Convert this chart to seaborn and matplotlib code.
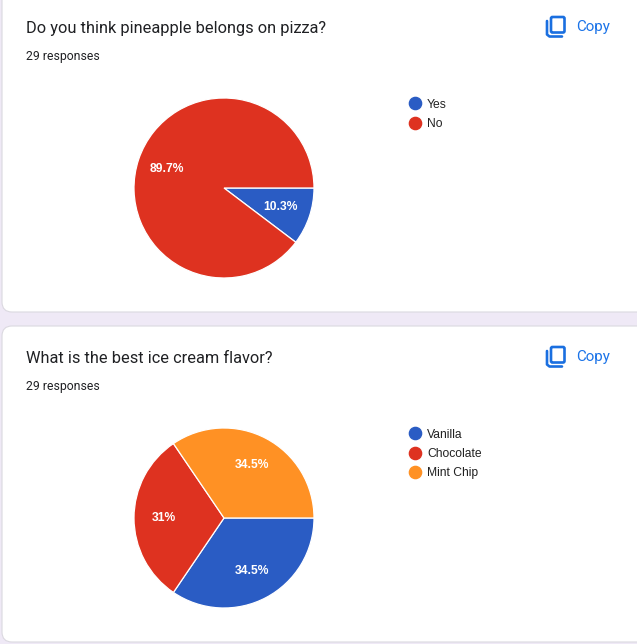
import math
import matplotlib
matplotlib.use('Agg')
import matplotlib.pyplot as plt
from matplotlib.patches import FancyBboxPatch
from matplotlib.lines import Line2D
import seaborn as sns

titles = ['Do you think pineapple belongs on pizza?', 'What is the best ice cream flavor?']
responses = ['29 responses', '29 responses']
labels_1 = ['Yes', 'No']
values_1 = [10.3, 89.7]
pct_text_1 = ['10.3%', '89.7%']
labels_2 = ['Vanilla', 'Chocolate', 'Mint Chip']
values_2 = [34.5, 31, 34.5]
pct_text_2 = ['34.5%', '31%', '34.5%']
colors = sns.color_palette(['#2a5cc4', '#de3220', '#ff9124'])

W, H = 637, 644
sns.set_theme(style='white')
plt.rcParams['font.family'] = ['Roboto', 'DejaVu Sans']

fig = plt.figure(figsize=(W / 100, H / 100), dpi=100, facecolor='#efe9f6')
bg = fig.add_axes([0, 0, 1, 1])
bg.set_xlim(0, W)
bg.set_ylim(H, 0)
bg.axis('off')


def draw_card(top, bottom):
    bg.add_patch(FancyBboxPatch((2, top), 700, bottom - top, boxstyle='round,pad=0,rounding_size=10',
                                fc='white', ec='#dbd9e0', lw=0.8))


def draw_copy_icon(y):
    bg.add_patch(FancyBboxPatch((551, y - 10), 13.5, 15.5, boxstyle='round,pad=0,rounding_size=1.5',
                                fc='none', ec='#1a6fe0', lw=1.9))
    bg.plot([547, 547, 549.5, 562], [y - 6, y + 7.5, y + 9.5, y + 9.5], color='#1a6fe0', lw=1.9)
    bg.text(576, y, 'Copy', color='#1a73e8', fontsize=10.9, va='center', ha='left', family='Roboto')


def draw_pie(cx, cy, r, values, pct_text):
    ax = fig.add_axes([(cx - r) / W, 1 - (cy + r) / H, 2 * r / W, 2 * r / H])
    wedges, _ = ax.pie(values, colors=colors, startangle=0, counterclock=False, radius=1,
                       wedgeprops={'edgecolor': 'white', 'linewidth': 0.9})
    ax.set_xlim(-1, 1)
    ax.set_ylim(-1, 1)
    ax.set_aspect('equal')
    ax.patch.set_alpha(0)
    start = 0
    total = sum(values)
    for v, t in zip(values, pct_text):
        mid = math.radians(-(start + v / 2) / total * 360)
        ax.text(0.667 * math.cos(mid), 0.667 * math.sin(mid), t, color='white', fontsize=8.7,
                fontweight='bold', ha='center', va='center', family='Liberation Sans')
        start += v
    for w in wedges:
        w.set_clip_on(False)


def draw_legend(x, y, labels):
    handles = [Line2D([], [], marker='o', ls='', ms=8.8, color=c) for c in colors[:len(labels)]]
    bg.legend(handles, labels, loc='upper left', bbox_to_anchor=(x / W, 1 - y / H), bbox_transform=fig.transFigure,
              frameon=False, prop={'family': 'Liberation Sans', 'size': 8.7}, labelspacing=0.62,
              handletextpad=0.25, borderpad=0, borderaxespad=0, handlelength=1.4, labelcolor='#222222')


draw_card(-20, 312)
draw_card(326, 642)

bg.text(26, 28, titles[0], fontsize=11.8, color='#202124', va='center')
bg.text(26, 56, responses[0], fontsize=8.8, color='#202124', va='center')
bg.text(26, 358, titles[1], fontsize=11.8, color='#202124', va='center')
bg.text(26, 386, responses[1], fontsize=8.8, color='#202124', va='center')

draw_copy_icon(27)
draw_copy_icon(357)

draw_pie(224, 188, 90, values_1, pct_text_1)
draw_pie(224, 518, 90, values_2, pct_text_2)

draw_legend(407, 98.5, labels_1)
bg.add_artist(bg.get_legend())
draw_legend(407, 428.5, labels_2)

fig.savefig('out.png', dpi=100, facecolor=fig.get_facecolor())
